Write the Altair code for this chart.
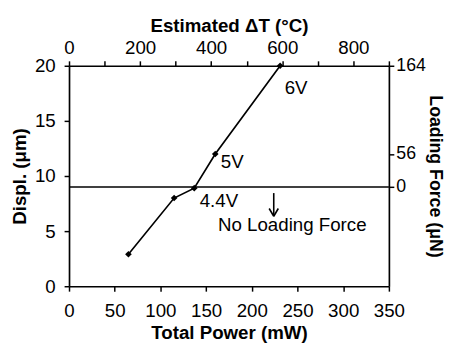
import altair as alt
import pandas as pd

# Data
power_mw = [65, 115, 137, 160, 231]
displ_um = [2.9, 8.0, 8.9, 12.0, 20.0]

# Annotations (data units)
ann_text = ["6V", "5V", "4.4V", "No Loading Force"]
ann_x = [236, 166, 143, 163]
ann_y = [17.4, 10.75, 7.15, 5.0]

# Arrow segments (data units)
arr_x = [224, 219, 229]
arr_y = [8.45, 7.05, 7.05]
arr_x2 = [224, 224, 224]
arr_y2 = [6.35, 6.35, 6.35]

zero_force_displ = [9]

# Secondary axes
temp_domain = [0, 900]
force_tick_pos = [9, 12, 20]
force_tick_lab = ["0", "56", "164"]

FONT = "Liberation Sans"
FS = 19

df = pd.DataFrame({"power": power_mw, "displ": displ_um})
ann = pd.DataFrame({"power": ann_x, "displ": ann_y, "t": ann_text})
arr = pd.DataFrame({"power": arr_x, "displ": arr_y, "p2": arr_x2, "d2": arr_y2})
hz = pd.DataFrame({"displ": zero_force_displ})
dummy = pd.DataFrame({"temp": temp_domain, "displ": [0, 20]})

xscale = alt.Scale(domain=[0, 350], nice=False, zero=False)
yscale = alt.Scale(domain=[0, 20], nice=False, zero=False)

xaxis = alt.Axis(values=list(range(0, 351, 50)), title="Total Power (mW)", grid=False,
                 tickSize=5, labelPadding=11, titlePadding=3, orient="bottom")
yaxis = alt.Axis(values=[0, 5, 10, 15, 20], title="Displ. (μm)", grid=False,
                 tickSize=5, labelPadding=9, titlePadding=5, orient="left")

X = alt.X("power:Q", scale=xscale, axis=xaxis, title="Total Power (mW)")
Y = alt.Y("displ:Q", scale=yscale, axis=yaxis, title="Displ. (μm)")

line = alt.Chart(df).mark_line(color="black", strokeWidth=1.7).encode(x=X, y=Y)
pts = alt.Chart(df).mark_point(shape="diamond", filled=True, color="black", size=45, opacity=1).encode(x=X, y=Y)
rule = alt.Chart(hz).mark_rule(color="black", strokeWidth=1.5).encode(y=Y)
texts = alt.Chart(ann).mark_text(align="left", baseline="alphabetic", font=FONT,
                                  fontSize=FS, color="black").encode(x=X, y=Y, text="t:N")
arrow = alt.Chart(arr).mark_rule(color="black", strokeWidth=1.6).encode(
    x=X, y=Y, x2="p2:Q", y2="d2:Q",
)

main = alt.layer(line, rule, arrow, pts, texts)

label_map = "{" + ",".join(f"'{p}':'{l}'" for p, l in zip(force_tick_pos, force_tick_lab)) + "}"

sec = alt.Chart(dummy).mark_point(opacity=0).encode(
    x=alt.X("temp:Q", scale=alt.Scale(domain=temp_domain, nice=False, zero=False),
            axis=alt.Axis(orient="top", values=list(range(0, 901, 100)), grid=False,
                          title="Estimated ΔT (°C)", tickSize=5, labelPadding=3, titlePadding=4,
                          labelExpr="datum.value % 200 == 0 ? datum.label : ''")),
    y=alt.Y("displ:Q", scale=yscale,
            axis=alt.Axis(orient="right", values=force_tick_pos, grid=False,
                          title="Loading Force (μN)", tickSize=5, labelPadding=2, titlePadding=0,
                          labelFontSize=18, titleFontSize=18,
                          labelExpr=label_map + "[datum.value]")),
)

chart = alt.layer(main, sec).resolve_scale(x="independent", y="independent").properties(
    width=325, height=224,
    autosize=alt.AutoSizeParams(type="none"),
    padding={"left": 62, "top": 56, "right": 57, "bottom": 56},
).configure_view(stroke=None).configure_axis(
    labelFont=FONT, titleFont=FONT, labelFontSize=FS, titleFontSize=FS, titleFontWeight="bold",
    labelColor="black", titleColor="black", domainColor="black", tickColor="black",
    domainWidth=1.7, tickWidth=1.5, labelFlush=False, labelOverlap=False,
)

chart.save("out.html", embed_options={"renderer": "svg", "actions": False})
